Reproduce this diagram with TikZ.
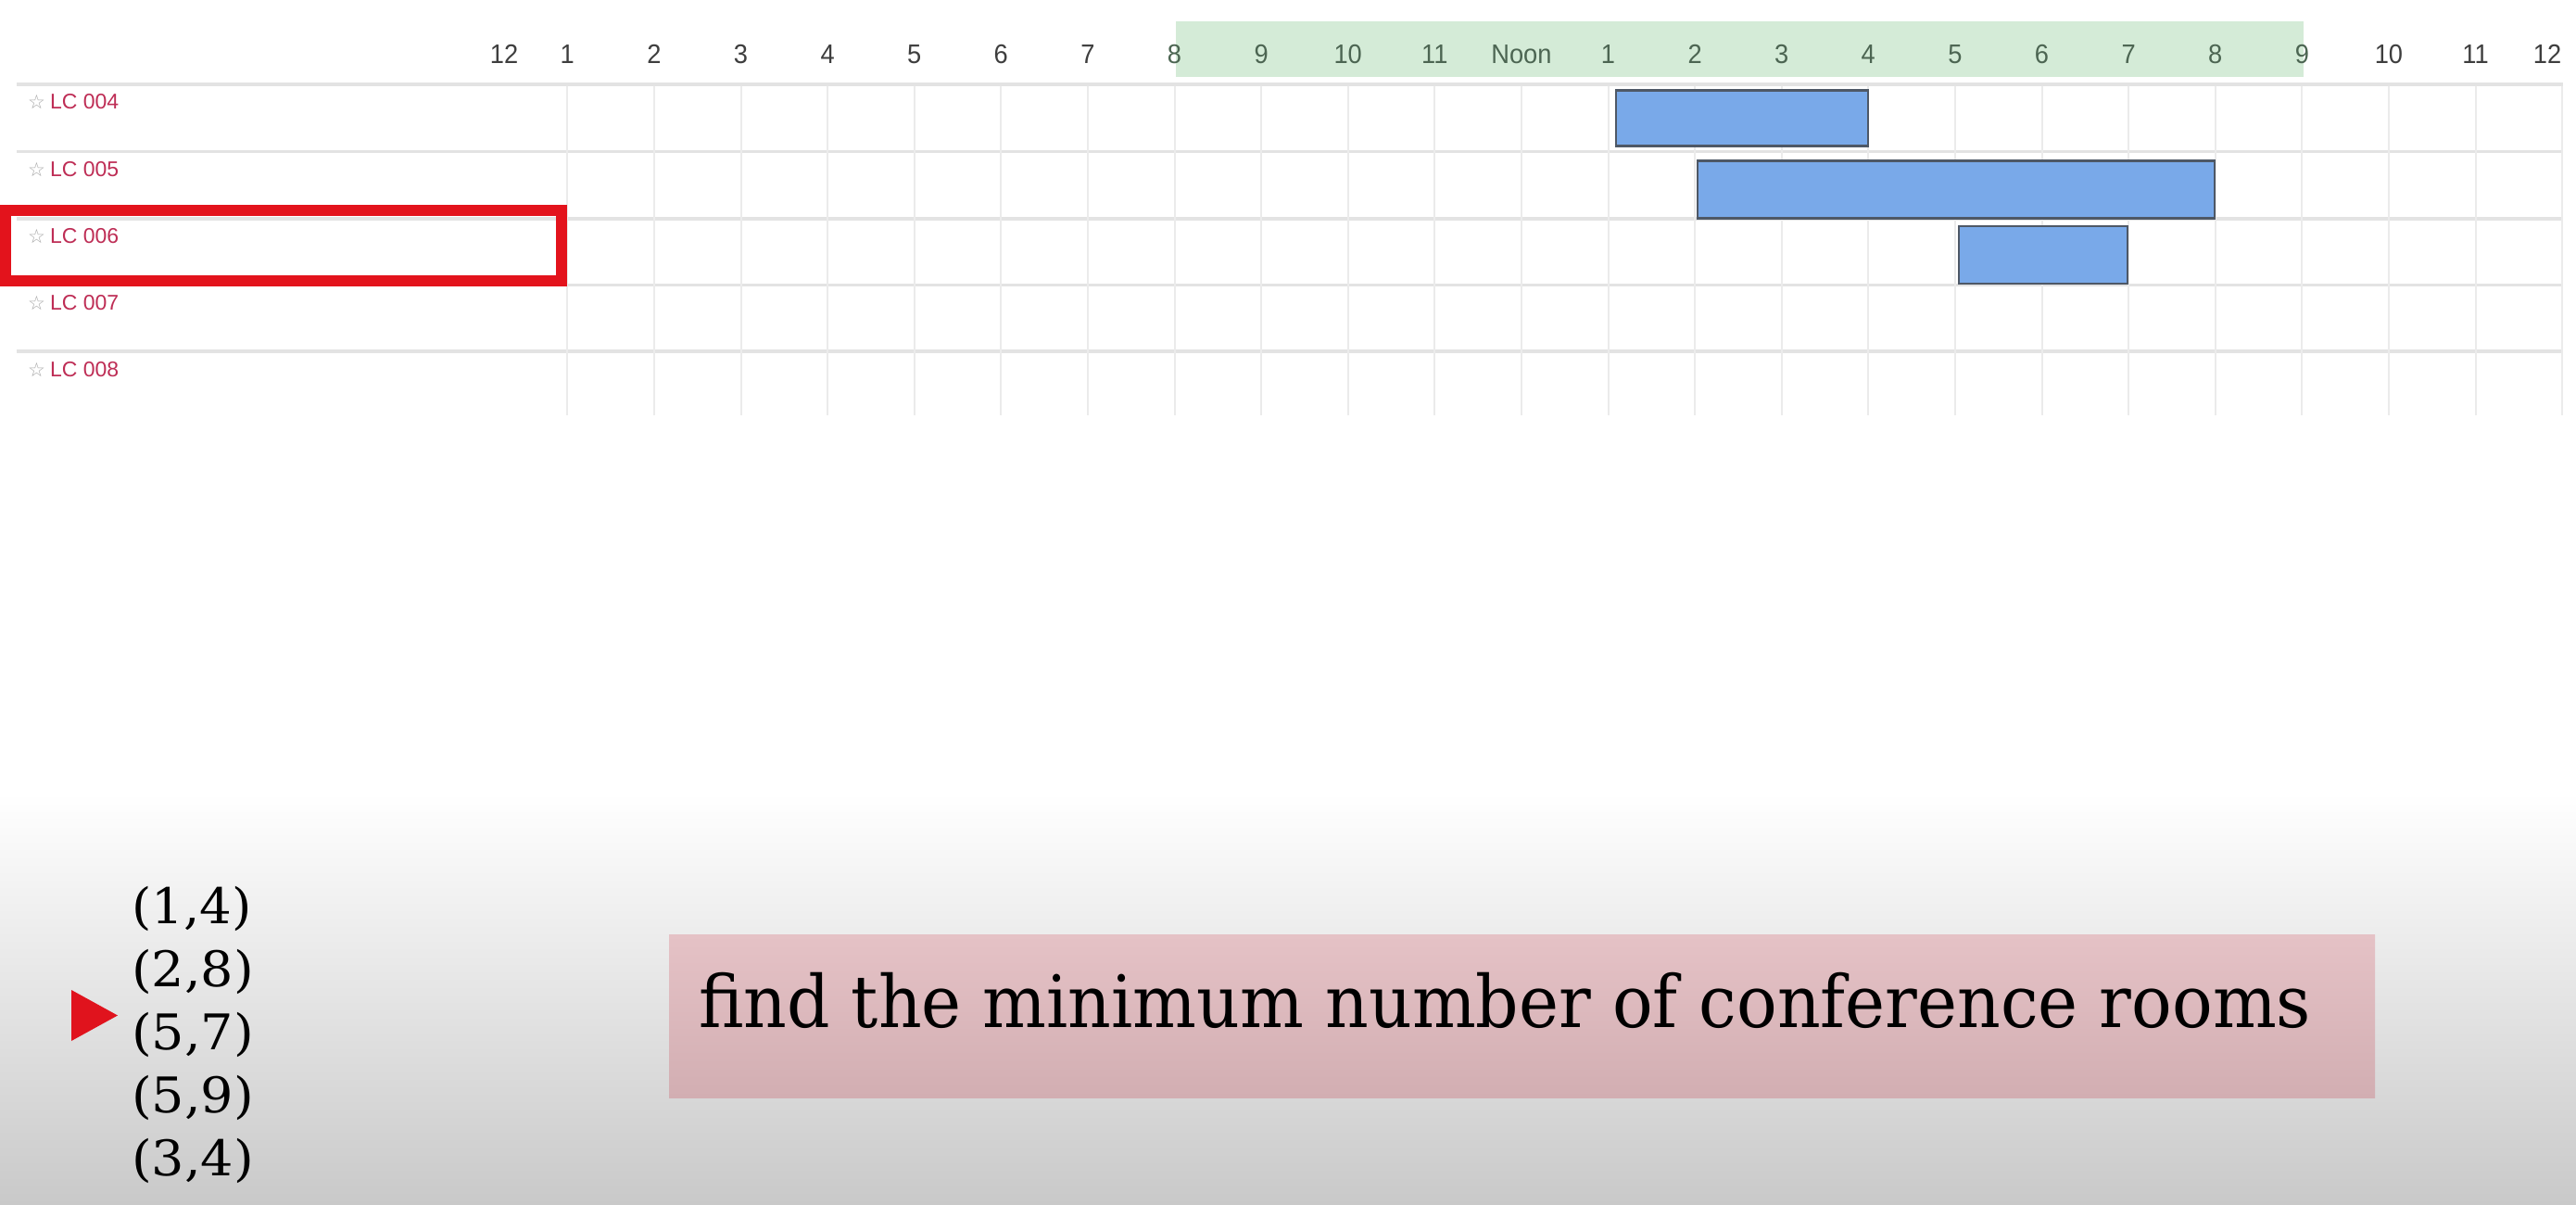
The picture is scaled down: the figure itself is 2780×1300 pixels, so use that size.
\documentclass[tikz,border=0pt]{standalone}
\usepackage{fontspec}
\setmainfont{DejaVu Serif}
\newfontfamily\uisans[FakeStretch=0.94]{Liberation Sans}
\newfontfamily\roomsans{Liberation Sans}
\newfontfamily\symfont{DejaVu Sans}
\definecolor{gridh}{HTML}{E3E3E3}
\definecolor{gridv}{HTML}{EBEBEB}
\definecolor{band}{HTML}{D4EBD7}
\definecolor{hourtxt}{HTML}{3E3E3E}
\definecolor{bandtxt}{HTML}{4C6552}
\definecolor{roomred}{HTML}{BE2D55}
\definecolor{stargray}{HTML}{A8A8A8}
\definecolor{barfill}{HTML}{79A9E9}
\definecolor{barline}{HTML}{4E5866}
\definecolor{boxred}{HTML}{E3131C}
\definecolor{pinktop}{HTML}{E5C2C6}
\definecolor{pinkbot}{HTML}{D2AEB2}
\definecolor{bggray}{HTML}{C9C9C9}
\definecolor{trired}{HTML}{E0131D}
\begin{document}
\begin{tikzpicture}[x=1pt,y=-1pt,
  hourlbl/.style={inner sep=0pt,font=\uisans\fontsize{29}{34}\selectfont},
  roomlbl/.style={anchor=west,inner sep=0pt,text=roomred,font=\roomsans\fontsize{23}{27}\selectfont},
  hline/.style={draw=gridh,line width=3.5pt},
  vline/.style={draw=gridv,line width=2pt},
  meeting/.style={draw=barline,fill=barfill,line width=2.2pt,inner sep=0pt},
  focusbox/.style={draw=boxred,line width=12pt,inner sep=0pt},
  tuple/.style={anchor=base west,inner sep=0pt,font=\fontsize{53}{62}\selectfont},
  taskbox/.style={inner sep=0pt,top color=pinktop,bottom color=pinkbot,draw=none}]
% page
\useasboundingbox (0,0) rectangle (2780,1300);
\fill[white] (0,0) rectangle (2780,1300);
\shade[top color=white,bottom color=bggray] (0,855) rectangle (2780,1300);
% working-hours band
\fill[band] (1269,23) rectangle (2486,83);
% horizontal grid
\foreach \yy in {91,163.5,236,307.5,379}{
  \draw[hline] (18,\yy) -- (2766,\yy);
}
% vertical grid
\foreach \k in {1,...,24}{
  \pgfmathsetmacro{\xx}{612.3+93.6*(\k-1)}
  \draw[vline] (\xx,93) -- (\xx,448);
}
% hour labels
\node[hourlbl,text=hourtxt] (h0) at (544,58.5) {12};
\foreach \k/\lab in {1/1,2/2,3/3,4/4,5/5,6/6,7/7,22/10,23/11}{
  \pgfmathsetmacro{\xx}{612.3+93.6*(\k-1)}
  \node[hourlbl,text=hourtxt] (h\k) at (\xx,58.5) {\lab};
}
\foreach \k/\lab in {8/8,9/9,10/10,11/11,12/Noon,13/1,14/2,15/3,16/4,17/5,18/6,19/7,20/8,21/9}{
  \pgfmathsetmacro{\xx}{612.3+93.6*(\k-1)}
  \node[hourlbl,text=bandtxt] (h\k) at (\xx,58.5) {\lab};
}
\node[hourlbl,text=hourtxt] (h24) at (2749,58.5) {12};
% room labels
\foreach \i/\rm in {0/004,1/005,2/006,3/007,4/008}{
  \node[roomlbl] (lc\rm) at (30,110+72.2*\i) {{\symfont\fontsize{21}{24}\selectfont\color{stargray}☆}\hspace{5pt}LC \rm};
}
% highlighted row
\node[focusbox,minimum width=600,minimum height=76] (focus) at (306,265) {};
% meetings
\node[meeting,minimum width=272,minimum height=60] (m1) at (1880,127.5) {};
\node[meeting,minimum width=558,minimum height=62] (m2) at (2111,204.5) {};
\node[meeting,minimum width=182,minimum height=62] (m3) at (2205,275) {};
% interval list
\node[tuple] (t1) at (142,996) {\scalebox{1.03}[1]{(1,4)}};
\node[tuple] (t2) at (142,1064) {\scalebox{1.05}[1]{(2,8)}};
\node[tuple] (t3) at (142,1132) {\scalebox{1.05}[1]{(5,7)}};
\node[tuple] (t4) at (142,1200) {\scalebox{1.05}[1]{(5,9)}};
\node[tuple] (t5) at (142,1268) {\scalebox{1.05}[1]{(3,4)}};
\fill[trired] (77,1068) -- (127,1095.5) -- (77,1123) -- cycle;
% task box
\node[taskbox,minimum width=1841,minimum height=176] (task) at (1642.5,1096) {};
\node[anchor=base west,inner sep=0pt,font=\fontsize{78}{90}\selectfont] (tasktext) at (754,1108)
  {\resizebox{1740pt}{\height}{find the minimum number of conference rooms}};
\end{tikzpicture}
\end{document}
